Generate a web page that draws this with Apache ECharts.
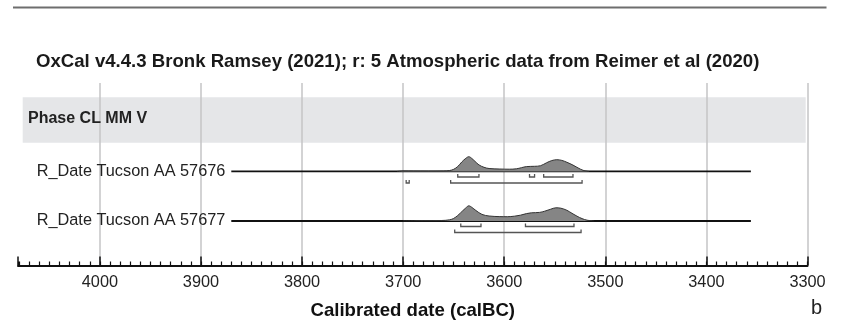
<!DOCTYPE html>
<html>
<head>
<meta charset="utf-8">
<script src="https://cdn.jsdelivr.net/npm/echarts@6/dist/echarts.min.js"></script>
<style>
  html, body { margin: 0; padding: 0; background: #fff; }
  #chart { width: 841px; height: 320px; }
</style>
</head>
<body>
<div id="chart"></div>
<script>
// OxCal-style multiplot: calibrated radiocarbon dates (years calBC)

const titleText = 'OxCal v4.4.3 Bronk Ramsey (2021); r: 5 Atmospheric data from Reimer et al (2020)';
const phaseName = 'Phase CL MM V';
const sampleNames = ['R_Date Tucson AA 57676', 'R_Date Tucson AA 57677'];
const axisTitle = 'Calibrated date (calBC)';
const panelLetter = 'b';

// calBC range of the time axis and its tick values
const axisMin = 3300;
const axisMax = 4081;
const majorTicks = [3300, 3400, 3500, 3600, 3700, 3800, 3900, 4000];

// extent of each sample's baseline (calBC)
const sampleSpans = [[3870, 3356], [3870, 3356]];

// relative probability density, [year calBC, density]
const densityA = [
  [3706, 0], [3700, 0.6], [3690, 0.5], [3675, 0.4], [3660, 0.5], [3654, 1.0],
  [3650, 2.2], [3646, 5.0], [3642, 9.5], [3638, 13.2], [3635, 14.8], [3632, 13.0],
  [3629, 10.2], [3625, 6.6], [3620, 4.2], [3615, 3.0], [3605, 2.5], [3595, 2.3],
  [3588, 2.7], [3583, 3.8], [3578, 4.9], [3570, 5.2], [3564, 5.8], [3558, 8.8],
  [3553, 10.9], [3548, 11.8], [3543, 11.1], [3538, 9.2], [3532, 6.4], [3527, 3.6],
  [3522, 1.2], [3516, 0]
];
const densityB = [
  [3700, 0], [3680, 0.3], [3662, 0.5], [3654, 1.2], [3650, 2.6], [3646, 5.5],
  [3641, 10.3], [3638, 13.1], [3635, 15.2], [3632, 13.6], [3628, 10.5], [3622, 6.6],
  [3615, 5.0], [3605, 4.4], [3597, 4.3], [3590, 4.8], [3584, 5.8], [3578, 7.4],
  [3573, 8.2], [3565, 8.6], [3560, 9.8], [3554, 11.8], [3549, 13.2], [3544, 12.8],
  [3538, 10.7], [3533, 7.7], [3528, 4.8], [3523, 2.4], [3518, 0.8], [3511, 0]
];

// highest posterior density ranges: [from, to, level] (level 0 = 68.3%, 1 = 95.4%)
const rangesA = [
  [3646, 3625, 0], [3575, 3570, 0], [3561, 3532, 0],
  [3697, 3694, 1], [3653, 3523, 1]
];
const rangesB = [
  [3643, 3623, 0], [3579, 3531, 0],
  [3649, 3524, 1]
];

const densities = [densityA, densityB];
const ranges = [rangesA, rangesB];

// ---- layout ----
const gridLeft = 18, gridRight = 33.5;
const rowBaselines = [171.5, 221];
const rowHeight = 20;
const font = 'Liberation Sans, Arial, Helvetica, sans-serif';

const chart = echarts.init(document.getElementById('chart'), null, { renderer: 'canvas' });

const grids = [{ left: gridLeft, right: gridRight, top: 83, bottom: 320 - 265.5, outerBoundsMode: 'none' }];
const xAxes = [
  {
    gridIndex: 0, type: 'value', inverse: true, min: axisMin, max: axisMax,
    interval: 100, position: 'bottom',
    axisLine: { show: true, lineStyle: { color: '#111', width: 2 } },
    axisTick: { show: true, inside: true, length: 9, lineStyle: { color: '#111', width: 1.5 } },
    axisLabel: {
      show: true, margin: 9,
      customValues: majorTicks,
      formatter: v => String(v),
      color: '#222', fontSize: 16.3, fontFamily: font
    },
    splitLine: { show: true, showMaxLine: false, showMinLine: true, lineStyle: { color: '#c4c4c6', width: 1.5 } },
    name: axisTitle, nameLocation: 'middle', nameGap: 36,
    nameTextStyle: { color: '#111', fontSize: 18.6, fontWeight: 'bold', fontFamily: font }
  },
  {
    // 10-year minor ticks
    gridIndex: 0, type: 'value', inverse: true, min: axisMin, max: axisMax,
    interval: 10, position: 'bottom',
    axisLine: { show: false },
    axisTick: { show: true, inside: true, length: 4, lineStyle: { color: '#111', width: 1.2 } },
    axisLabel: { show: false },
    splitLine: { show: false }
  }
];
const yAxes = [{ gridIndex: 0, type: 'value', show: false, min: 0, max: 1 }];

rowBaselines.forEach((b, i) => {
  grids.push({ left: gridLeft, right: gridRight, top: b - rowHeight, height: rowHeight, outerBoundsMode: 'none' });
  xAxes.push({ gridIndex: i + 1, type: 'value', inverse: true, min: axisMin, max: axisMax, show: false });
  yAxes.push({ gridIndex: i + 1, type: 'value', min: 0, max: rowHeight, show: false });
});

const series = [];
sampleNames.forEach((name, i) => {
  const xIdx = i + 2, yIdx = i + 1;
  // baseline with the sample name at its start
  series.push({
    type: 'line', xAxisIndex: xIdx, yAxisIndex: yIdx, silent: true,
    symbol: 'circle', symbolSize: 0, showSymbol: true, z: 3,
    lineStyle: { color: '#111', width: 2 },
    data: [
      { value: [sampleSpans[i][0], 0],
        label: { show: true, position: 'left', distance: 6, formatter: name,
                 color: '#222', fontSize: 16.3, fontFamily: font } },
      [sampleSpans[i][1], 0]
    ],
    label: { show: false }
  });
  // probability distribution
  series.push({
    type: 'line', xAxisIndex: xIdx, yAxisIndex: yIdx, silent: true,
    symbol: 'none', smooth: 0.35, z: 4,
    lineStyle: { color: '#333', width: 1 },
    areaStyle: { color: '#858585', opacity: 1 },
    data: densities[i]
  });
  // range brackets below the baseline
  series.push({
    type: 'custom', xAxisIndex: xIdx, yAxisIndex: yIdx, silent: true, z: 4,
    clip: false,
    renderItem: function (params, api) {
      const p1 = api.coord([api.value(0), 0]);
      const p2 = api.coord([api.value(1), 0]);
      const off = api.value(2) === 0 ? 5.5 : 11.5;
      const y = p1[1] + off;
      return {
        type: 'polyline',
        shape: { points: [[p1[0], y - 3], [p1[0], y], [p2[0], y], [p2[0], y - 3]] },
        style: { stroke: '#555', lineWidth: 1.3, fill: null }
      };
    },
    data: ranges[i]
  });
});

// empty series so the main grid's axes render
series.push({ type: 'line', xAxisIndex: 0, yAxisIndex: 0, data: [], silent: true });

chart.setOption({
  animation: false,
  backgroundColor: '#fff',
  grid: grids,
  xAxis: xAxes,
  yAxis: yAxes,
  series: series,
  graphic: [
    { type: 'line', z: 10, shape: { x1: 13, y1: 7.5, x2: 826.5, y2: 7.5 },
      style: { stroke: '#6e6e6e', lineWidth: 2.2 } },
    { type: 'text', z: 10, left: 36, top: 52,
      style: { text: titleText, fill: '#1a1a1a', fontSize: 18.6, fontWeight: 'bold', fontFamily: font } },
    { type: 'rect', z: -10, shape: { x: 22.7, y: 97.3, width: 783, height: 45.4 },
      style: { fill: '#e5e6e8' } },
    { type: 'text', z: 10, left: 28, top: 111,
      style: { text: phaseName, fill: '#222', fontSize: 16, fontWeight: 'bold', fontFamily: font } },
    { type: 'text', z: 10, left: 811, top: 298,
      style: { text: panelLetter, fill: '#222', fontSize: 20, fontFamily: font } }
  ]
});
</script>
</body>
</html>
